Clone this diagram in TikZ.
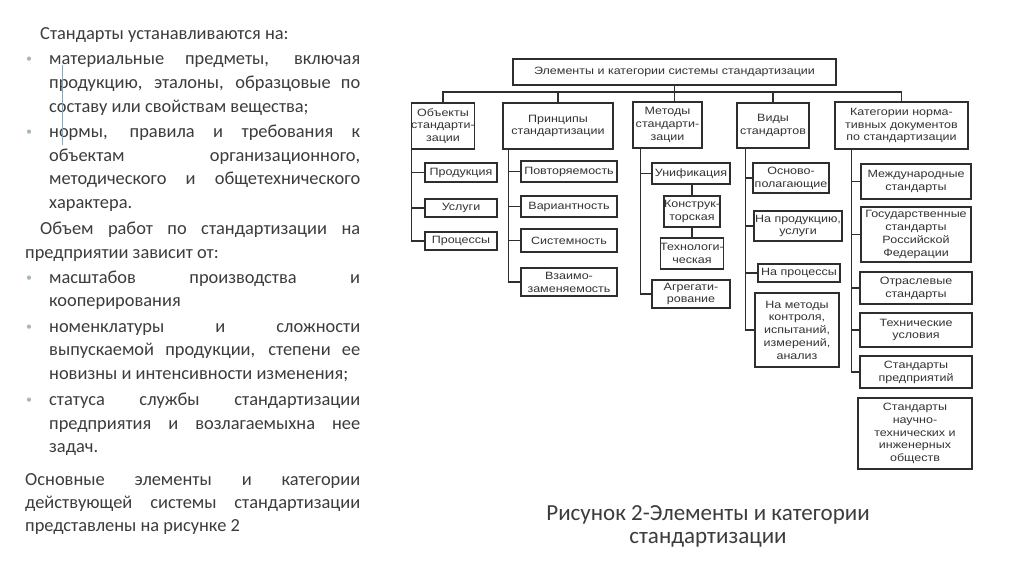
\documentclass[tikz,border=0pt]{standalone}
\usepackage{fontspec}
\setmainfont{Carlito}
\newfontfamily\dg[FakeStretch=1.18]{Liberation Sans}
\definecolor{txt}{HTML}{3C3C3C}
\definecolor{bulc}{HTML}{A9B7BD}
\definecolor{dgl}{HTML}{2E2E2E}
\definecolor{dgt}{HTML}{333333}
\definecolor{cur}{HTML}{8FA6B2}
\newcommand\bx[6]{\node[bx,minimum width={#4-#2},minimum height={#5-#3}] (#1) at ({(#2+#4)/2},{(#3+#5)/2}) {#6};}
\begin{document}
\begin{tikzpicture}[x=1pt,y=-1pt,
  bx/.style={draw=dgl, line width=1.2pt, inner sep=0pt, align=center, text=dgt,
    font=\dg\fontsize{10.6}{12.8}\selectfont},
  ln/.style={draw=dgl, line width=1.2pt},
  tl/.style={anchor=base west, inner sep=0pt, text=txt, font=\fontsize{18.4}{22}\selectfont},
  bul/.style={anchor=base west, inner sep=0pt, text=bulc, font=\fontsize{12}{12}\selectfont},
  captxt/.style={align=center, inner sep=0pt, text=txt, font=\fontsize{23}{23}\selectfont}]
\fill[white] (0,0) rectangle (1024,574);
\useasboundingbox (0,0) rectangle (1024,574);

% ---------- left text ----------
\node[tl] (l1) at (40,39) {Стандарты устанавливаются на:};
\node[tl] (l2) at (49,64) {\makebox[311pt][s]{материальные предметы, включая}};
\node[tl] (l3) at (49,88) {\makebox[311pt][s]{продукцию, эталоны, образцовые по}};
\node[tl] (l4) at (49,112) {составу или свойствам вещества;};
\node[tl] (l5) at (49,137) {\makebox[311pt][s]{нормы, правила и требования к}};
\node[tl] (l6) at (49,161) {\makebox[311pt][s]{объектам организационного,}};
\node[tl] (l7) at (49,184) {\makebox[311pt][s]{методического и общетехнического}};
\node[tl] (l8) at (49,208) {характера.};
\node[tl] (l9) at (40,234) {\makebox[320pt][s]{Объем работ по стандартизации на}};
\node[tl] (l10) at (25,258) {предприятии зависит от:};
\node[tl] (l11) at (49,283) {\makebox[311pt][s]{масштабов производства и}};
\node[tl] (l12) at (49,306) {кооперирования};
\node[tl] (l13) at (49,332) {\makebox[311pt][s]{номенклатуры и сложности}};
\node[tl] (l14) at (49,355) {\makebox[311pt][s]{выпускаемой продукции, степени ее}};
\node[tl] (l15) at (49,379) {новизны и интенсивности изменения;};
\node[tl] (l16) at (49,405) {\makebox[311pt][s]{статуса службы стандартизации}};
\node[tl] (l17) at (49,429) {\makebox[311pt][s]{предприятия и возлагаемыхна нее}};
\node[tl] (l18) at (49,452) {задач.};
\node[tl] (l19) at (25,485) {\makebox[335pt][s]{Основные элементы и категории}};
\node[tl] (l20) at (25,508) {\makebox[335pt][s]{действующей системы стандартизации}};
\node[tl] (l21) at (25,531) {представлены на рисунке 2};
\foreach \yy/\nm in {62/b1,135/b2,281/b3,330/b4,403/b5}
  \node[bul] (\nm) at (26,\yy) {\textbullet};
\draw[cur, line width=1pt] (62,65) -- (62,145);

% ---------- caption ----------
\node[captxt] (caption) at (708,526) {Рисунок 2-Элементы и категории\\стандартизации};

% ---------- diagram ----------
\bx{top}{513}{59}{836}{85}{Элементы и категории системы стандартизации}
\bx{c1}{413}{103}{473}{149}{Объекты\\стандарти-\\зации}
\bx{c2}{503}{103}{613}{149}{Принципы\\стандартизации}
\bx{c3}{633}{102}{702}{148}{Методы\\стандарти-\\зации}
\bx{c4}{737}{103}{809}{148}{Виды\\стандартов}
\bx{c5}{835}{102}{968}{149}{Категории норма-\\тивных документов\\по стандартизации}

\bx{c1a}{425}{163}{497}{182}{Продукция}
\bx{c1b}{425}{199}{497}{217}{Услуги}
\bx{c1c}{425}{232}{497}{250}{Процессы}

\bx{c2a}{521}{161}{617}{182}{Повторяемость}
\bx{c2b}{521}{196}{617}{217}{Вариантность}
\bx{c2c}{521}{229}{617}{252}{Системность}
\bx{c2d}{521}{268}{617}{296}{Взаимо-\\заменяемость}

\bx{c3a}{652}{163}{730}{184}{Унификация}
\bx{c3b}{665}{196}{719}{227}{Конструк-\\торская}
\bx{c3c}{665}{238}{719}{269}{Технологи-\\ческая}
\bx{c3d}{652}{280}{730}{308}{Агрегати-\\рование}

\bx{c4a}{753}{163}{829}{193}{Осново-\\полагающие}
\bx{c4b}{754}{211}{842}{241}{На продукцию,\\услуги}
\bx{c4c}{758}{264}{840}{282}{На процессы}
\bx{c4d}{755}{293}{839}{367}{На методы\\контроля,\\испытаний,\\измерений,\\анализ}

\bx{c5a}{861}{164}{971}{199}{Международные\\стандарты}
\bx{c5b}{861}{207}{971}{262}{Государственные\\стандарты\\Российской\\Федерации}
\bx{c5c}{860}{272}{972}{304}{Отраслевые\\стандарты}
\bx{c5d}{860}{313}{972}{347}{Технические\\условия}
\bx{c5e}{860}{356}{972}{388}{Стандарты\\предприятий}
\bx{c5f}{858}{398}{972}{469}{Стандарты\\научно-\\технических и\\инженерных\\обществ}

% bus
\coordinate (bus) at (674.5,92);
\draw[ln] (c1.north) -- (c1.north |- bus) -- (c5.north |- bus) -- (c5.north);
\draw[ln] (c2.north) -- (c2.north |- bus);
\draw[ln] (c4.north) -- (c4.north |- bus);
\draw[ln] (top.south) -- (top.south |- c3.north);

% column trees
\foreach \ch in {c1a,c1b,c1c} \draw[ln] ([xshift=1pt]c1.south west) |- (\ch.west);
\foreach \ch in {c2a,c2b,c2c,c2d} \draw[ln] ([xshift=6pt]c2.south west) |- (\ch.west);
\foreach \ch in {c3a,c3d} \draw[ln] ([xshift=8pt]c3.south west) |- (\ch.west);
\draw[ln] (c3b.north) -- (c3b.north |- c3a.south);
\draw[ln] (c3b.south) -- (c3c.north);
\foreach \ch in {c4a,c4b,c4c,c4d} \draw[ln] ([xshift=9pt]c4.south west) |- (\ch.west);
\foreach \ch in {c5a,c5b,c5c,c5d,c5e} \draw[ln] ([xshift=17pt]c5.south west) |- (\ch.west);
\end{tikzpicture}
\end{document}
